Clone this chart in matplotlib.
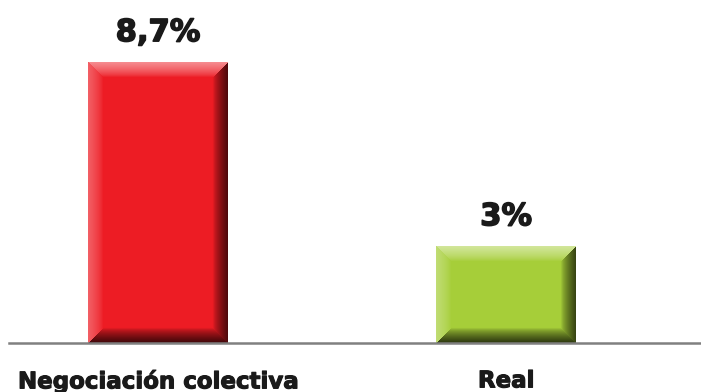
import matplotlib
matplotlib.use("Agg")
import matplotlib.pyplot as plt
import matplotlib.colors as mcolors
import matplotlib.patheffects as pe
import numpy as np

# datos del grafico
categorias = ["Negociación colectiva", "Real"]
valores = [8.7, 3.0]
etiquetas = ["8,7%", "3%"]
colores = ["#ed1c24", "#a6ce39"]

plt.rcParams['font.family'] = ['DejaVu Sans']

fig = plt.figure(figsize=(7.01, 3.92), dpi=100)
ax = fig.add_axes([9 / 701, 49 / 392, 692 / 701, 343 / 392])

x = np.arange(len(categorias))
bars = ax.bar(x, valores, width=0.402, color=colores, zorder=2)

ax.set_xlim(-0.428, 1.56)
ax.set_ylim(0, 10.62)


def bevel(color, W, H, b=15):
    # pinta el bisel: claro arriba/izquierda, oscuro abajo/derecha
    base = np.array(mcolors.to_rgb(color))
    xs = np.arange(W) + 0.5
    ys = np.arange(H) + 0.5
    X, Y = np.meshgrid(xs, ys)
    d = np.stack([X, Y, W - X, H - Y])  # izq, arriba, der, abajo
    idx = np.argmin(d, axis=0)
    dmin = np.min(d, axis=0)
    t = np.clip(1 - dmin / b, 0, 1)
    img = np.ones((H, W, 3)) * base
    amounts = [(1, 0.3), (1, 0.5), (0, 0.68), (0, 0.74)]
    for k, (target, amt) in enumerate(amounts):
        m = idx == k
        a = (amt * t[m] ** 0.7)[:, None]
        img[m] = img[m] * (1 - a) + target * a
    return img


fig.canvas.draw()
for bar, col in zip(bars, colores):
    x0, w, h = bar.get_x(), bar.get_width(), bar.get_height()
    p0 = ax.transData.transform((x0, 0))
    p1 = ax.transData.transform((x0 + w, h))
    W = int(round(p1[0] - p0[0]))
    H = int(round(p1[1] - p0[1]))
    ax.imshow(bevel(col, W, H), extent=(x0, x0 + w, 0, h), aspect='auto',
              interpolation='bilinear', zorder=3)

ax.set_xlim(-0.428, 1.56)
ax.set_ylim(0, 10.62)

for bar, lab in zip(bars, etiquetas):
    ax.annotate(lab, (bar.get_x() + bar.get_width() / 2, bar.get_height()),
                xytext=(0, 15), textcoords='offset points', ha='center', va='baseline',
                fontsize=22, fontweight='bold', color='#1a1a1a',
                path_effects=[pe.withStroke(linewidth=1.1, foreground='#1a1a1a')])

ax.set_xticks(x)
ax.set_xticklabels(categorias, fontsize=16.5, fontweight='bold', color='#1a1a1a')
for t in ax.get_xticklabels():
    t.set_path_effects([pe.withStroke(linewidth=0.8, foreground='#1a1a1a')])
ax.tick_params(axis='x', length=0, pad=19)
ax.set_yticks([])
for s in ['top', 'left', 'right']:
    ax.spines[s].set_visible(False)
ax.spines['bottom'].set_color('#808080')
ax.spines['bottom'].set_linewidth(1.8)
ax.spines['bottom'].set_zorder(4)

fig.savefig("out.png", dpi=100)
